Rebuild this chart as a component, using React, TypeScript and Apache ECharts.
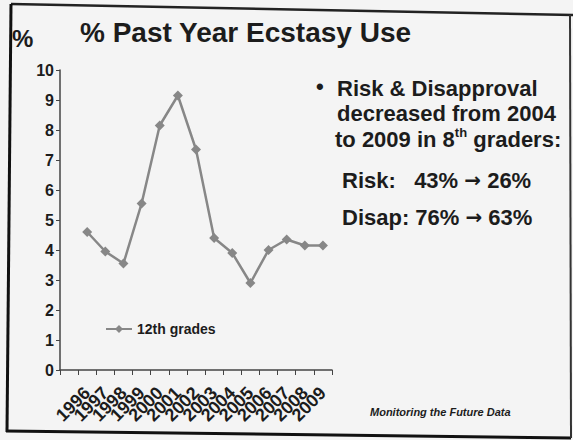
import React, { useEffect, useRef } from "react";
import * as echarts from "echarts";

const categories: string[] = ["", "1996", "1997", "1998", "1999", "2000", "2001", "2002", "2003", "2004", "2005", "2006", "2007", "2008", "2009"];
const values12th: (number | null)[] = [null, 4.6, 3.95, 3.55, 5.55, 8.15, 9.15, 7.35, 4.4, 3.9, 2.9, 4.0, 4.35, 4.15, 4.15];
const yTicks = { min: 0, max: 10, interval: 1 };
const seriesName = "12th grades";
const titleText = "% Past Year Ecstasy Use";
const bulletLines = ["Risk & Disapproval", "decreased from 2004"];
const riskParts = ["Risk:   43% ", "26%"];
const disapParts = ["Disap: 76% ", "63%"];
const sourceText = "Monitoring the Future Data";

const FONT = "'Liberation Sans', Arial, sans-serif";
const INK = "#1c1c1c";
const GRAY = "#878787";

export default function App() {
  const ref = useRef<HTMLDivElement>(null);
  useEffect(() => {
    if (!ref.current) return;
    const chart = echarts.init(ref.current, null, { renderer: "svg" });
    const bigText = (x: number, y: number, text: string, size = 22) => ({
      type: "text",
      x,
      y,
      style: { text, fontSize: size, fontWeight: "bold", fontFamily: FONT, fill: INK, verticalAlign: "middle", align: "left" },
    });
    const arrowText = (x: number, y: number, parts: string[]) => ({
      type: "text",
      x,
      y,
      style: {
        text: `{a|${parts[0]}}{r|\u2192}{a| ${parts[1]}}`,
        fontFamily: FONT,
        fill: INK,
        verticalAlign: "middle",
        rich: {
          a: { fontSize: 22, fontWeight: "bold", fontFamily: FONT, fill: INK, lineHeight: 26 },
          r: { fontSize: 20, fontWeight: "bold", fontFamily: "'DejaVu Sans', sans-serif", fill: INK, lineHeight: 26 },
        },
      },
    });
    chart.setOption({
      animation: false,
      backgroundColor: "#f4f4f4",
      grid: { left: 60, top: 70, width: 272, height: 300, containLabel: false, outerBoundsMode: "none" },
      xAxis: {
        type: "category",
        data: categories,
        boundaryGap: true,
        axisLine: { lineStyle: { color: "#444", width: 1.5 } },
        axisTick: { show: true, interval: 0, length: 5, lineStyle: { color: "#444", width: 1 } },
        axisLabel: { interval: 0, rotate: 45, fontSize: 18, fontWeight: "bold", color: INK, margin: 20, fontFamily: FONT },
        splitLine: { show: false },
      },
      yAxis: {
        type: "value",
        min: yTicks.min,
        max: yTicks.max,
        interval: yTicks.interval,
        axisLine: { show: true, lineStyle: { color: "#444", width: 1.5 } },
        axisTick: { show: true, length: 4, lineStyle: { color: "#444" } },
        axisLabel: { fontSize: 16, fontWeight: "bold", color: INK, margin: 6, fontFamily: FONT },
        splitLine: { show: false },
      },
      legend: {
        data: [seriesName],
        left: 100,
        top: 317,
        itemWidth: 26,
        itemHeight: 10,
        itemGap: 6,
        textStyle: { fontSize: 14, fontWeight: "bold", color: INK, fontFamily: FONT },
      },
      series: [
        {
          type: "line",
          name: seriesName,
          data: values12th,
          symbol: "diamond",
          symbolSize: 10,
          lineStyle: { color: GRAY, width: 2.5 },
          itemStyle: { color: GRAY },
        },
      ],
      graphic: [
        { type: "line", shape: { x1: 11, y1: 4, x2: 573, y2: 15 }, style: { stroke: "#222", lineWidth: 2.5 } },
        { type: "line", shape: { x1: 11, y1: 4, x2: 7, y2: 432 }, style: { stroke: "#111", lineWidth: 3 } },
        { type: "line", shape: { x1: 6, y1: 431, x2: 571, y2: 438 }, style: { stroke: "#111", lineWidth: 3 } },
        { type: "line", shape: { x1: 570, y1: 15, x2: 571, y2: 438 }, style: { stroke: "#333", lineWidth: 2 } },
        {
          type: "text",
          x: 12,
          y: 38,
          style: { text: "%", fontSize: 24, fontWeight: "bold", fontFamily: FONT, fill: INK, verticalAlign: "middle" },
        },
        {
          type: "text",
          x: 80,
          y: 32,
          style: { text: titleText, fontSize: 28, fontWeight: "bold", fontFamily: FONT, fill: INK, verticalAlign: "middle" },
        },
        bigText(316, 86, "\u2022", 22),
        bigText(337, 88, bulletLines[0]),
        bigText(337, 113, bulletLines[1]),
        {
          type: "text",
          x: 335,
          y: 139,
          style: {
            text: "{a|to 2009 in 8}{s|th}{a| graders:}",
            fontFamily: FONT,
            fill: INK,
            verticalAlign: "middle",
            rich: {
              a: { fontSize: 22, fontWeight: "bold", fontFamily: FONT, fill: INK, lineHeight: 26 },
              s: { fontSize: 13, fontWeight: "bold", fontFamily: FONT, fill: INK, lineHeight: 26, verticalAlign: "top" },
            },
          },
        },
        arrowText(342, 180, riskParts),
        arrowText(342, 217, disapParts),
        {
          type: "text",
          x: 370,
          y: 412,
          style: { text: sourceText, fontSize: 11, fontWeight: "bold", fontStyle: "italic", fontFamily: FONT, fill: INK, verticalAlign: "middle" },
        },
      ],
    });
    return () => chart.dispose();
  }, []);
  return <div ref={ref} style={{ position: "fixed", left: 0, top: 0, width: 573, height: 440 }} />;
}
